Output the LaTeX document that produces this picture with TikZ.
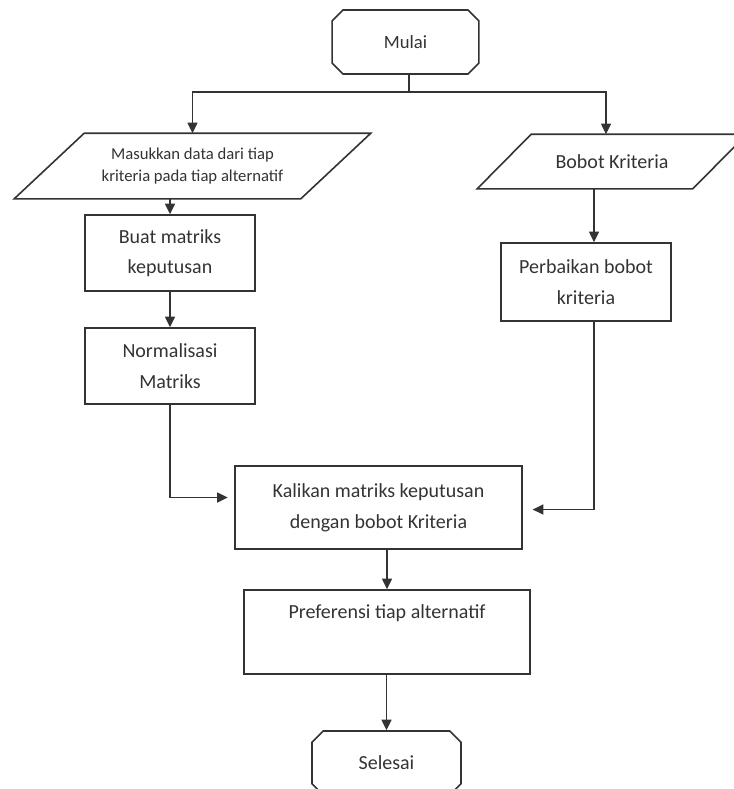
\documentclass[tikz,border=0pt]{standalone}
\usepackage{fontspec}
\setmainfont{Carlito}
\usetikzlibrary{arrows.meta, shapes.misc}

\begin{document}
\begin{tikzpicture}[x=0.75pt, y=-0.75pt,
        line width=1.2pt, draw=black!80, >={Triangle[length=8pt, width=7.5pt]},
        terminal/.style={draw, chamfered rectangle, chamfered rectangle xsep=12pt,
            minimum width=110pt, minimum height=48pt, inner sep=0pt, font=\fontsize{14}{18}\selectfont},
        io/.style={rectangle, align=center, inner sep=0pt},
        process/.style={draw, rectangle, align=center, minimum width=127.5pt, minimum height=57pt,
            font=\fontsize{15}{23}\selectfont}]

        \useasboundingbox (0,0) rectangle (734,789);

        % start and the two inputs
        \node[terminal, text=black!80] (mulai) at (405.5,42) {Mulai};
        \node[io, minimum width=213.75pt, minimum height=48pt,
            font=\fontsize{12.5}{17}\selectfont, text=black!80] (input) at (192.5,166)
            {Masukkan data dari tiap\\kriteria pada tiap alternatif};
        \node[io, minimum width=160.5pt, minimum height=39.75pt,
            font=\fontsize{15}{23}\selectfont, text=black!80] (bobot) at (612,161.5) {Bobot Kriteria};

        % slanted sides of the inputs
        \draw ([xshift=26.25pt]input.north west) -- ([xshift=26.25pt]input.north east)
            -- ([xshift=-26.25pt]input.south east) -- ([xshift=-26.25pt]input.south west) -- cycle;
        \draw ([xshift=20.25pt]bobot.north west) -- ([xshift=20.25pt]bobot.north east)
            -- ([xshift=-20.25pt]bobot.south east) -- ([xshift=-20.25pt]bobot.south west) -- cycle;

        % left column
        \node[process, text=black!80] (buat) at (170,253) {Buat matriks\\keputusan};
        \node[process, text=black!80] (norm) at (170,366) {Normalisasi\\Matriks};

        % right column
        \node[process, minimum height=58.5pt, text=black!80] (perb) at (586,282) {Perbaikan bobot\\kriteria};

        % merge and finish
        \node[process, minimum width=215pt, minimum height=62pt, text=black!80] (kali) at (378.5,507.5)
            {Kalikan matriks keputusan\\dengan bobot Kriteria};
        \node[process, minimum width=214.5pt, minimum height=63pt, text=black!80] (pref) at (387,632)
            {Preferensi tiap alternatif\\[8pt]\mbox{}};
        \node[terminal, minimum width=111.75pt, font=\fontsize{15}{18}\selectfont, text=black!80] (selesai) at (386.5,763) {Selesai};

        \coordinate (split) at ([xshift=2.5pt]mulai.south |- 0,92);

        \draw ([xshift=2.5pt]mulai.south) -- (split);
        \draw[->] (split) -| (input.north);
        \draw[->] (split) -| ([xshift=-4.5pt]bobot.north);
        \draw[->] (buat.north |- input.south) -- (buat.north);
        \draw[->] (buat) -- (norm);
        \draw[->, shorten >=5pt] (norm.south) |- ([yshift=7.5pt]kali.west);
        \draw[->] ([xshift=6pt]perb.north |- bobot.south) -- ([xshift=6pt]perb.north);
        \draw[->, shorten >=7.5pt] ([xshift=6pt]perb.south) |- ([yshift=-1.5pt]kali.east);
        \draw[->] (pref.north |- kali.south) -- (pref.north);
        \draw[->] (pref.south -| selesai.north) -- (selesai.north);
    \end{tikzpicture}
\end{document}
